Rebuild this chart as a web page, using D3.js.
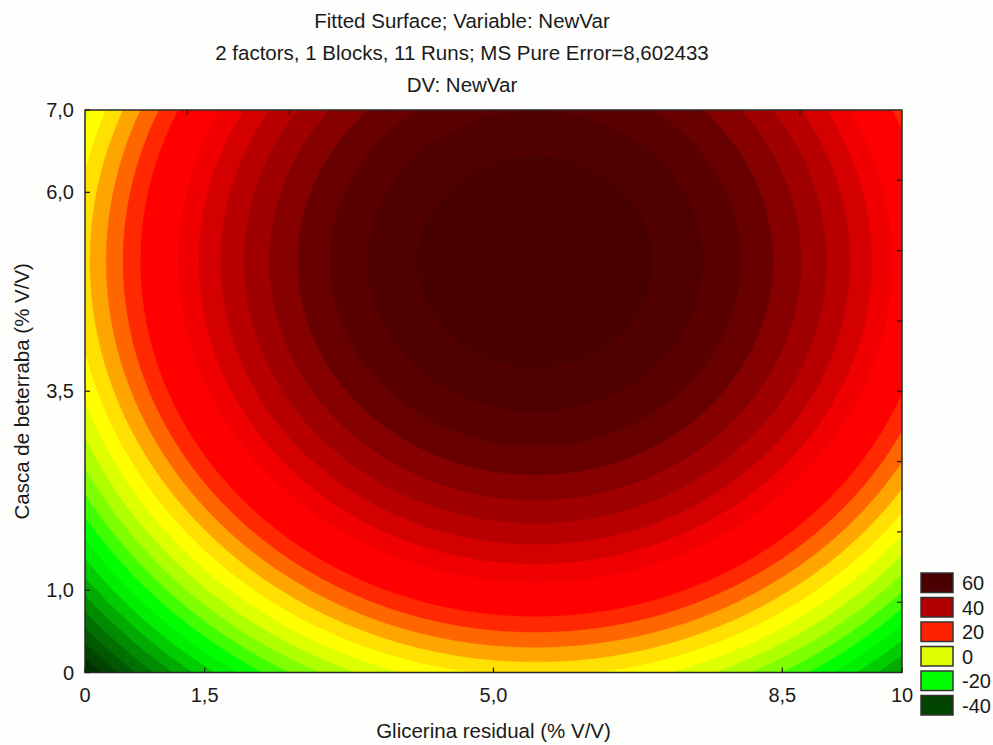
<!DOCTYPE html>
<html>
<head>
<meta charset="utf-8">
<script src="https://cdn.jsdelivr.net/npm/d3@7/dist/d3.min.js"></script>
<style>
    body { margin: 0; background: #fefefc; }
    text { font-family: "Liberation Sans", Arial, sans-serif; fill: #1a1a1a; }
</style>
</head>
<body>
<script>
// ======================= DATA =================================
const titleLines = [
    'Fitted Surface; Variable: NewVar',
    '2 factors, 1 Blocks, 11 Runs; MS Pure Error=8,602433',
    'DV: NewVar'
]
const xLabel = 'Glicerina residual (% V/V)'
const yLabel = 'Casca de beterraba (% V/V)'

// design levels (coded -1.414 .. +1.414), labels as printed
const xTicks = [0.05, 1.5, 5.0, 8.5, 9.95]
const xTickLabels = ['0', '1,5', '5,0', '8,5', '10']
const yTicks = [-0.035, 1.0, 3.5, 6.0, 7.035]
const yTickLabels = ['0', '1,0', '3,5', '6,0', '7,0']

// fitted quadratic: z = b0 + b1*x + b2*x^2 + b3*y + b4*y^2 + b5*x*y
const coef = [-48.42, 21.136, -1.919, 22.648, -2.207, 0]

// contour levels and band colours (band = [level, next level))
const levels = [-52, -48, -44, -40, -36, -32, -28, -24, -20, -16, -12, -8, -4,
    0, 4, 8, 12, 16, 20, 24, 28, 32, 36, 40, 44, 48, 52, 56, 60, 64]
const bandColors = ['#002000', '#003000', '#004400', '#005800', '#007000', '#008c00',
    '#00aa00', '#00cc00', '#00ee00', '#00ff00', '#40ff00', '#80ff00', '#b0ff00',
    '#ddff00', '#ffff00', '#ffe000', '#ffa500', '#ff6600', '#ff2800', '#ff0000',
    '#fd0000', '#f00000', '#d40000', '#b80000', '#a00000', '#860000', '#680000',
    '#5a0000', '#500000', '#480000']

const legendValues = [60, 40, 20, 0, -20, -40]
const legendColors = ['#4a0000', '#b20000', '#ff2200', '#ddff00', '#00ff00', '#004400']

// ======================= LAYOUT ===============================
const margin = { top: 110, left: 85 },
    width = 817,
    height = 562.5

const svg = d3.select('body').append('svg')
    .attr('width', 993)
    .attr('height', 745)

const x = d3.scaleLinear().domain([0.05, 9.95]).range([margin.left, margin.left + width])
const y = d3.scaleLinear().domain([-0.035, 7.035]).range([margin.top + height, margin.top])

// ======================= SURFACE ==============================
function fitted(a, b) {
    return coef[0] + coef[1] * a + coef[2] * a * a + coef[3] * b + coef[4] * b * b + coef[5] * a * b
}

const nx = 420, ny = 300
const x0 = x.domain()[0], x1 = x.domain()[1]
const y0 = y.domain()[0], y1 = y.domain()[1]
const dx = (x1 - x0) / nx, dy = (y1 - y0) / ny
const grid = new Array(nx * ny)
for (let j = 0; j < ny; j++) {
    for (let i = 0; i < nx; i++) {
        grid[j * nx + i] = fitted(x0 + (i + 0.5) * dx, y0 + (j + 0.5) * dy)
    }
}

const contours = d3.contours()
    .size([nx, ny])
    .thresholds(levels)(grid)

const projection = d3.geoTransform({
    point: function (px, py) {
        this.stream.point(x(x0 + px * dx), y(y0 + py * dy))
    }
})
const path = d3.geoPath(projection)

svg.append('clipPath').attr('id', 'plot-clip')
    .append('rect')
    .attr('x', margin.left).attr('y', margin.top)
    .attr('width', width).attr('height', height)

const plot = svg.append('g').attr('clip-path', 'url(#plot-clip)')

plot.append('rect')
    .attr('x', margin.left).attr('y', margin.top)
    .attr('width', width).attr('height', height)
    .attr('fill', bandColors[0])

plot.selectAll('path')
    .data(contours)
    .enter().append('path')
    .attr('d', path)
    .attr('fill', function (d, i) { return bandColors[i] })
    .attr('stroke', function (d, i) { return bandColors[i] })
    .attr('stroke-width', 0.4)

// ======================= FRAME & AXES =========================
svg.append('rect')
    .attr('x', margin.left).attr('y', margin.top)
    .attr('width', width).attr('height', height)
    .attr('fill', 'none')
    .attr('stroke', '#2a2a2a')
    .attr('stroke-width', 1.5)

const tickLen = 5
const ticks = svg.append('g').attr('stroke', '#1a1a1a').attr('stroke-width', 1.2)

ticks.selectAll('.xt').data(xTicks).enter().append('line')
    .attr('x1', function (d) { return x(d) }).attr('x2', function (d) { return x(d) })
    .attr('y1', margin.top + height).attr('y2', margin.top + height - tickLen)

ticks.selectAll('.yt').data(yTicks).enter().append('line')
    .attr('y1', function (d) { return y(d) }).attr('y2', function (d) { return y(d) })
    .attr('x1', margin.left).attr('x2', margin.left + tickLen)

// unlabeled ticks on the opposite sides (8 divisions)
const divs = d3.range(1, 8)
ticks.selectAll('.tt').data(divs).enter().append('line')
    .attr('x1', function (d) { return margin.left + d * width / 8 })
    .attr('x2', function (d) { return margin.left + d * width / 8 })
    .attr('y1', margin.top).attr('y2', margin.top + tickLen)

ticks.selectAll('.rt').data(divs).enter().append('line')
    .attr('y1', function (d) { return margin.top + d * height / 8 })
    .attr('y2', function (d) { return margin.top + d * height / 8 })
    .attr('x1', margin.left + width).attr('x2', margin.left + width - tickLen)

svg.selectAll('.xl').data(xTicks).enter().append('text')
    .attr('x', function (d) { return x(d) })
    .attr('y', 702)
    .attr('text-anchor', 'middle')
    .attr('font-size', 20)
    .text(function (d, i) { return xTickLabels[i] })

svg.selectAll('.yl').data(yTicks).enter().append('text')
    .attr('x', 74)
    .attr('y', function (d) { return y(d) + 7 })
    .attr('text-anchor', 'end')
    .attr('font-size', 20)
    .text(function (d, i) { return yTickLabels[i] })

// ======================= TITLES ===============================
svg.selectAll('.title').data(titleLines).enter().append('text')
    .attr('x', 462)
    .attr('y', function (d, i) { return 28 + i * 32 })
    .attr('text-anchor', 'middle')
    .attr('font-size', 20.5)
    .text(function (d) { return d })

svg.append('text')
    .attr('x', margin.left + width / 2)
    .attr('y', 738)
    .attr('text-anchor', 'middle')
    .attr('font-size', 20.5)
    .text(xLabel)

svg.append('text')
    .attr('transform', 'translate(29,' + (margin.top + height / 2) + ') rotate(-90)')
    .attr('text-anchor', 'middle')
    .attr('font-size', 20.5)
    .text(yLabel)

// ======================= LEGEND ===============================
const legend = svg.append('g').attr('transform', 'translate(921,573)')

legend.selectAll('rect')
    .data(legendValues)
    .enter().append('rect')
    .attr('x', 0)
    .attr('y', function (d, i) { return i * 24.5 })
    .attr('width', 32)
    .attr('height', 19.5)
    .attr('fill', function (d, i) { return legendColors[i] })
    .attr('stroke', '#333')
    .attr('stroke-width', 1.5)

legend.selectAll('text')
    .data(legendValues)
    .enter().append('text')
    .attr('x', 41)
    .attr('y', function (d, i) { return i * 24.5 + 17 })
    .attr('font-size', 20)
    .text(function (d) { return d })
</script>
</body>
</html>
